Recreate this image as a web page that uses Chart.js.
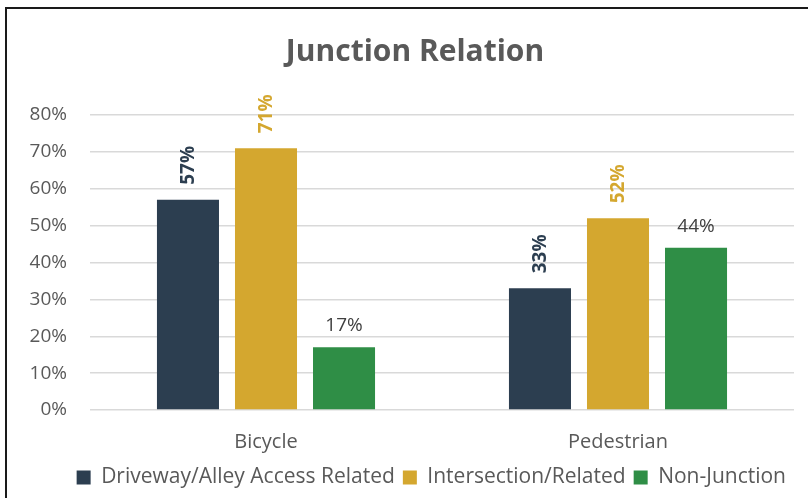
<!DOCTYPE html>
<html>
<head>
<meta charset="utf-8">
<script src="https://cdn.jsdelivr.net/npm/chart.js@4"></script>
<style>
  html, body { margin: 0; padding: 0; background: #fff; }
  #wrap { position: relative; width: 808px; height: 498px; }
</style>
</head>
<body>
<div id="wrap"><canvas id="junctionChart" width="808" height="498"></canvas></div>
<script>
// dados
const categorias = ['Bicycle', 'Pedestrian'];
const driveway = [57, 33];
const intersection = [71, 52];
const naoJuncao = [17, 44];
const yTicks = [0, 10, 20, 30, 40, 50, 60, 70, 80];
const titulo = 'Junction Relation';

const corEscura = '#2C3E50';
const corOuro = '#D4A72F';
const corVerde = '#2F8E46';
const corTexto = '#595959';
const fonte = "'Open Sans', 'Noto Sans', sans-serif";

// moldura (so topo e esquerda aparecem no recorte) + titulo
const moldura = {
    id: 'moldura',
    afterDraw(chart) {
        const ctx = chart.ctx;
        ctx.save();
        ctx.strokeStyle = '#1a1a1a';
        ctx.lineWidth = 2;
        ctx.beginPath();
        ctx.moveTo(6, 498);
        ctx.lineTo(6, 8);
        ctx.lineTo(808, 8);
        ctx.stroke();

        ctx.fillStyle = corTexto;
        ctx.font = 'bold 30px ' + fonte;
        ctx.textAlign = 'center';
        ctx.textBaseline = 'middle';
        ctx.fillText(titulo, 415, 52);
        ctx.restore();
    }
};

// rotulos de valor em cima das barras
const rotulos = {
    id: 'rotulos',
    afterDatasetsDraw(chart) {
        const ctx = chart.ctx;
        chart.data.datasets.forEach((ds, i) => {
            const meta = chart.getDatasetMeta(i);
            meta.data.forEach((bar, j) => {
                const txt = ds.data[j] + '%';
                ctx.save();
                ctx.fillStyle = ds.labelColor;
                ctx.font = (ds.labelBold ? 'bold ' : '') + '19px ' + fonte;
                if (ds.labelRotate) {
                    ctx.translate(bar.x, bar.y - 15);
                    ctx.rotate(-Math.PI / 2);
                    ctx.textAlign = 'left';
                    ctx.textBaseline = 'middle';
                    ctx.fillText(txt, 0, 1);
                } else {
                    ctx.textAlign = 'center';
                    ctx.textBaseline = 'bottom';
                    ctx.fillText(txt, bar.x, bar.y - 12);
                }
                ctx.restore();
            });
        });
    }
};

new Chart(document.getElementById('junctionChart').getContext('2d'), {
    type: 'bar',
    data: {
        labels: categorias,
        datasets: [
            { label: 'Driveway/Alley Access Related', data: driveway, backgroundColor: corEscura,
              labelColor: corEscura, labelBold: true, labelRotate: true },
            { label: 'Intersection/Related', data: intersection, backgroundColor: corOuro,
              labelColor: corOuro, labelBold: true, labelRotate: true },
            { label: 'Non-Junction', data: naoJuncao, backgroundColor: corVerde,
              labelColor: '#404040', labelBold: false, labelRotate: false }
        ]
    },
    options: {
        responsive: false,
        animation: false,
        categoryPercentage: 0.665,
        barPercentage: 0.795,
        layout: { padding: { left: 10, right: 14, top: 115, bottom: 0 } },
        plugins: {
            title: { display: false },
            legend: {
                position: 'bottom',
                align: 'end',
                labels: {
                    color: corTexto,
                    font: { family: fonte, size: 21 },
                    boxWidth: 14,
                    boxHeight: 14,
                    padding: 8
                }
            },
            tooltip: { enabled: false }
        },
        scales: {
            y: {
                min: 0,
                max: 80,
                afterFit(scale) { scale.width = 80; },
                afterBuildTicks(scale) { scale.ticks = yTicks.map(v => ({ value: v })); },
                border: { display: false },
                grid: { color: '#D9D9D9', lineWidth: 1.5, drawTicks: false },
                ticks: {
                    color: corTexto,
                    padding: 23,
                    font: { family: fonte, size: 19 },
                    callback: v => v + '%'
                }
            },
            x: {
                afterFit(scale) { scale.height = 49; },
                border: { display: false },
                grid: { display: false, drawTicks: false },
                ticks: {
                    color: corTexto,
                    padding: 20,
                    font: { family: fonte, size: 20 }
                }
            }
        }
    },
    plugins: [rotulos, moldura]
});
</script>
</body>
</html>
